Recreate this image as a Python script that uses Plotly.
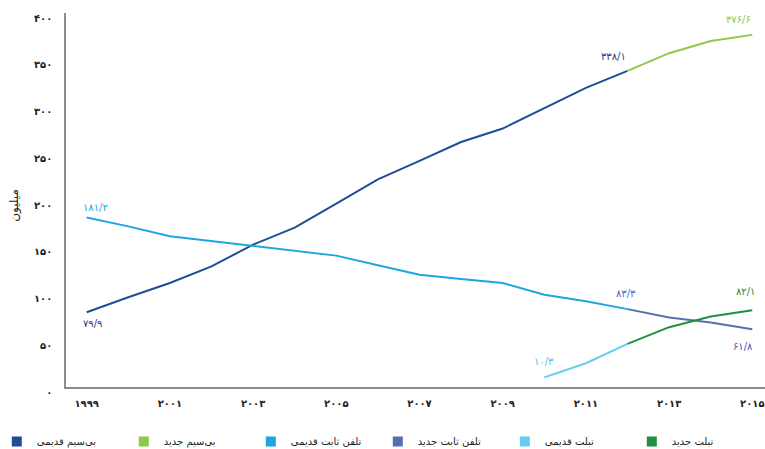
import plotly.graph_objects as go

old_pager_years = list(range(1999, 2013))
old_pager = [79.9, 96, 111.2, 129, 152.3, 170.5, 196, 222, 241.8, 262, 276.4, 298, 320, 338.1]

new_pager_years = [2012, 2013, 2014, 2015]
new_pager = [338.1, 357, 370, 376.6]

old_fixed_years = list(range(1999, 2013))
old_fixed = [181.2, 171.8, 161.2, 156.2, 151.2, 145.8, 140.5, 130.3, 120, 115.5, 111.2, 98.7, 91.7, 83.3]

new_fixed_years = [2012, 2013, 2014, 2015]
new_fixed = [83.3, 74.3, 69, 61.8]

old_tablet_years = [2010, 2011, 2012]
old_tablet = [10.3, 25.4, 46.1]

new_tablet_years = [2012, 2013, 2014, 2015]
new_tablet = [46.1, 64, 75.4, 82.1]

series_names = ["بی‌سیم قدیمی", "بی‌سیم جدید", "تلفن ثابت قدیمی", "تلفن ثابت جدید", "تبلت قدیمی", "تبلت جدید"]
series_colors = ["#1F4E96", "#92C84A", "#1EA6E0", "#5570B0", "#66CCF2", "#1E9040"]

y_title = "میلیون"
y_tickvals = [0, 50, 100, 150, 200, 250, 300, 350, 400]
y_ticktext = ["۰", "۵۰", "۱۰۰", "۱۵۰", "۲۰۰", "۲۵۰", "۳۰۰", "۳۵۰", "۴۰۰"]
x_tickvals = [1999, 2001, 2003, 2005, 2007, 2009, 2011, 2013, 2015]
x_ticktext = ["۱۹۹۹", "۲۰۰۱", "۲۰۰۳", "۲۰۰۵", "۲۰۰۷", "۲۰۰۹", "۲۰۱۱", "۲۰۱۳", "۲۰۱۵"]

# value labels: (x, y, text, color, xshift, yshift)
value_labels = [
    (1999, 79.9, "۷۹/۹", "#2E3A8C", 6, -11),
    (1999, 181.2, "۱۸۱/۲", "#1EA6E0", 9, 10),
    (2012, 338.1, "۳۳۸/۱", "#2E3A8C", -14, 14),
    (2015, 376.6, "۳۷۶/۶", "#92C84A", -14, 15),
    (2012, 83.3, "۸۳/۳", "#3D6FC0", -2, 16),
    (2015, 82.1, "۸۲/۱", "#2E8B3A", -7, 19),
    (2015, 61.8, "۶۱/۸", "#5A4FB0", -9, -17),
    (2010, 10.3, "۱۰/۳", "#55BDE8", 0, 16),
]

font_fa = "DejaVu Sans"

fig = go.Figure()
data_sets = [
    (old_pager_years, old_pager),
    (new_pager_years, new_pager),
    (old_fixed_years, old_fixed),
    (new_fixed_years, new_fixed),
    (old_tablet_years, old_tablet),
    (new_tablet_years, new_tablet),
]
for (xs, ys), name, color in zip(data_sets, series_names, series_colors):
    fig.add_trace(go.Scatter(x=xs, y=ys, mode="lines", name=name,
                             line=dict(color=color, width=2), showlegend=False,
                             hoverinfo="skip"))
for name, color in zip(series_names, series_colors):
    fig.add_trace(go.Scatter(x=[None], y=[None], mode="markers", name=name,
                             marker=dict(symbol="square", size=10, color=color),
                             showlegend=True))

for x, y, t, c, dx, dy in value_labels:
    fig.add_annotation(x=x, y=y, text=t, showarrow=False, xshift=dx, yshift=dy,
                       font=dict(family=font_fa, size=10, color=c))

# y-axis title
fig.add_annotation(xref="paper", yref="paper", x=-0.073, y=0.487, text=y_title,
                   textangle=-90, showarrow=False, xanchor="center", yanchor="middle",
                   font=dict(family=font_fa, size=12, color="#222"))

fig.update_layout(
    width=765, height=449,
    margin=dict(l=66, r=0, t=13, b=62, autoexpand=False),
    paper_bgcolor="white", plot_bgcolor="white",
    font=dict(family=font_fa, size=9, color="#222"),
    xaxis=dict(range=[1998.503, 2015.305], tickvals=x_tickvals, ticktext=x_ticktext,
               showgrid=False, zeroline=False, showline=True, linecolor="#8c8c8c",
               linewidth=1.5, ticks="", tickfont=dict(size=10, color="#222", weight="bold"),
               ticklabelstandoff=6, automargin=False, fixedrange=True),
    yaxis=dict(range=[0, 400], tickvals=y_tickvals, ticktext=y_ticktext,
               showgrid=False, zeroline=False, showline=True, linecolor="#8c8c8c",
               linewidth=1.5, ticks="", tickfont=dict(size=10, color="#222", weight="bold"),
               ticklabelshift=5, ticklabelstandoff=10, automargin=False,
               fixedrange=True),
    legend=dict(orientation="h", x=-0.099, xanchor="left", y=-0.107, yanchor="top",
                entrywidth=82, entrywidthmode="pixels", itemwidth=30,
                font=dict(size=10, color="#222"), traceorder="normal"),
    showlegend=True,
)

fig.write_html("out.html", config={"displayModeBar": False},
               post_script="document.body.style.margin='0';document.body.style.padding='0';")
